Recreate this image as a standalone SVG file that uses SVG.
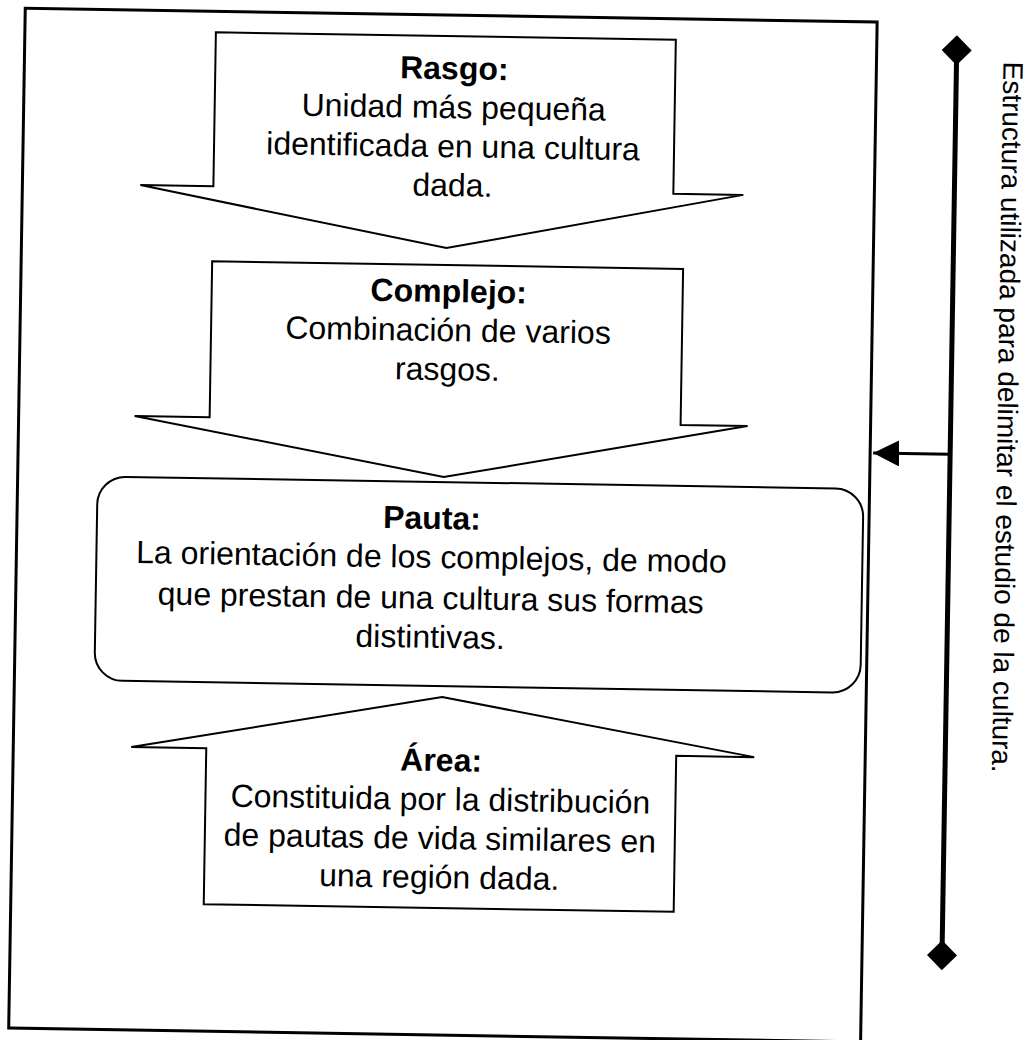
<svg xmlns="http://www.w3.org/2000/svg" width="1031" height="1040" viewBox="0 0 1031 1040">
<style>
.shape{fill:#fff;stroke:#000;stroke-width:2;stroke-linejoin:miter}
.frame{fill:none;stroke:#000;stroke-width:3}
.t{font-family:"Liberation Sans",Arial,sans-serif;font-size:32px;fill:#000;text-anchor:middle}
.b{font-weight:bold}
.side{font-family:"Liberation Sans",Arial,sans-serif;font-size:28px;fill:#000;text-anchor:middle}
.conn{fill:none;stroke:#000}
</style>
<defs>
<marker id="dia" viewBox="0 0 30 30" refX="15" refY="15" markerWidth="30" markerHeight="30" markerUnits="userSpaceOnUse" orient="auto"><path d="M15 0 L30 15 L15 30 L0 15Z" fill="#000"/></marker>
<marker id="arr" viewBox="0 0 26 26" refX="26" refY="13" markerWidth="26" markerHeight="26" markerUnits="userSpaceOnUse" orient="auto"><path d="M0 0 L26 13 L0 26Z" fill="#000"/></marker>
</defs>
<rect width="1031" height="1040" fill="#fff"/>
<g transform="rotate(0.93 440 520)">
<rect id="frame" class="frame" x="17" y="15" width="852" height="1020"/>
<g id="rasgo">
<polygon class="shape" points="208,36 668,36 668,190 738,190 442,248 135,190 208,190"/>
<text class="t b" x="447" y="79">Rasgo:</text>
<text class="t" x="447" y="118">Unidad más pequeña</text>
<text class="t" x="447" y="157">identificada en una cultura</text>
<text class="t" x="447" y="196">dada.</text>
</g>
<g id="complejo">
<polygon class="shape" points="208,265 679,265 679,421 746,421 443,477 133,421 208,421"/>
<text class="t b" x="445" y="302">Complejo:</text>
<text class="t" x="445" y="341">Combinación de varios</text>
<text class="t" x="445" y="380">rasgos.</text>
</g>
<g id="pauta">
<rect class="shape" x="97" y="482" width="766" height="204" rx="28" ry="28"/>
<text class="t b" x="432" y="529">Pauta:</text>
<text class="t" x="432" y="568">La orientación de los complejos, de modo</text>
<text class="t" x="432" y="609">que prestan de una cultura sus formas</text>
<text class="t" x="432" y="648">distintivas.</text>
</g>
<g id="area">
<polygon class="shape" points="445,697 758,752 680,752 680,908 210,908 210,752 135,752"/>
<text class="t b" x="445" y="771">Área:</text>
<text class="t" x="445" y="810">Constituida por la distribución</text>
<text class="t" x="445" y="849">de pautas de vida similares en</text>
<text class="t" x="445" y="888">una región dada.</text>
</g>
<g id="connectors">
<path class="conn" d="M949 42 L949 947" stroke-width="5" marker-start="url(#dia)" marker-end="url(#dia)"/>
<path class="conn" d="M949 446 L872 446" stroke-width="3" marker-end="url(#arr)"/>
</g>
<g id="label">
<text class="side" transform="translate(996 408) rotate(90)">Estructura utilizada para delimitar el estudio de la cultura.</text>
</g>
</g>
</svg>
